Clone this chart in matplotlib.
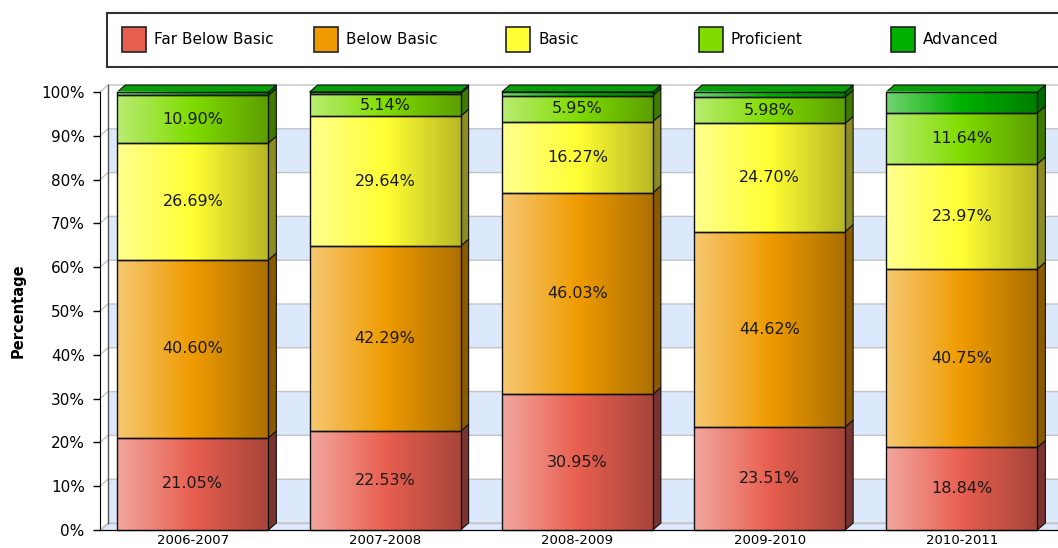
import numpy as np
import matplotlib
matplotlib.use("agg")
from matplotlib import pyplot as plt
from matplotlib.patches import Polygon, Rectangle
from matplotlib.colors import to_rgb

years = ["2006-2007", "2007-2008", "2008-2009", "2009-2010", "2010-2011"]
levels = ["Far Below Basic", "Below Basic", "Basic", "Proficient", "Advanced"]
far_below_basic = [21.05, 22.53, 30.95, 23.51, 18.84]
below_basic = [40.60, 42.29, 46.03, 44.62, 40.75]
basic = [26.69, 29.64, 16.27, 24.70, 23.97]
proficient = [10.90, 5.14, 5.95, 5.98, 11.64]
advanced = [0.76, 0.40, 0.80, 1.19, 4.80]
yticks = list(range(0, 101, 10))

colors = ["#e85f50", "#ef9b00", "#ffff33", "#80dc00", "#00b000"]
side_colors = ["#7b3330", "#8a5a00", "#8c8c22", "#3e7a00", "#006a00"]
top_color = "#0a9e0a"

W, H = 1058, 548
fig = plt.figure(figsize=(W / 100, H / 100), dpi=100)
ax = fig.add_axes([100 / W, 18 / H, 958 / W, 438 / H])
xmin, xmax = -0.483, 4.5
ax.set_xlim(xmin, xmax)
ax.set_ylim(0, 100)

# depth of the fake 3d, px -> data units
px_x = 958 / (xmax - xmin)
px_y = 438 / 100
dx = 8 / px_x
dy = 7 / px_y
bw = 151 / px_x


def gradient(c):
    base = np.array(to_rgb(c))
    light = base + (1 - base) * 0.45
    dark = base * 0.72
    t = np.linspace(0, 1, 200)[:, None]
    img = np.where(t < 0.5, light + (base - light) * (t / 0.5),
                   base + (dark - base) * ((t - 0.5) / 0.5))
    return np.clip(img[None, :, :], 0, 1)


# back wall: bands and grid lines
band = "#dce8fb"
grid = "#c4c4c4"
for v in yticks[:-1]:
    if (v // 10) % 2 == 0:
        ax.add_patch(Rectangle((xmin + dx, v + dy), xmax - xmin - dx, 10,
                               fc=band, ec="none", zorder=0, clip_on=False))
for v in yticks:
    ax.plot([xmin, xmin + dx, xmax], [v, v + dy, v + dy], color=grid, lw=1,
            zorder=0.5, clip_on=False)
ax.plot([xmin + dx, xmin + dx], [dy, 100 + dy], color="#555555", lw=1,
        zorder=0.8, clip_on=False)
# floor
ax.add_patch(Polygon([(xmin, 0), (xmax, 0), (xmax, dy), (xmin + dx, dy)],
                     closed=True, fc=band, ec=grid, lw=1, zorder=0.7,
                     clip_on=False))

series = [far_below_basic, below_basic, basic, proficient, advanced]
x = np.arange(len(years))
bottom = np.zeros(len(years))
for k, vals in enumerate(series):
    for i, v in enumerate(vals):
        x0, x1 = x[i] - bw / 2, x[i] + bw / 2
        y0, y1 = bottom[i], bottom[i] + v
        ax.imshow(gradient(colors[k]), extent=(x0, x1, y0, y1), aspect="auto",
                  interpolation="bilinear", zorder=3, clip_on=False)
        ax.add_patch(Polygon([(x1, y0), (x1, y1), (x1 + dx, y1 + dy), (x1 + dx, y0 + dy)],
                             closed=True, fc=side_colors[k], ec="#111111", lw=0.8,
                             zorder=2.5, clip_on=False))
        if v >= 5:
            ax.text(x[i], y0 + v / 2, f"{v:.2f}%", ha="center", va="center",
                    fontsize=11.5, color="#1a1a1a", zorder=6)
    ax.bar(x, vals, bw, bottom=bottom, fill=False, edgecolor="#111111",
           lw=1, zorder=4, clip_on=False)
    bottom = bottom + np.array(vals)

for i in range(len(years)):
    x0, x1 = x[i] - bw / 2, x[i] + bw / 2
    top = bottom[i]
    ax.add_patch(Polygon([(x0, top), (x1, top), (x1 + dx, top + dy), (x0 + dx, top + dy)],
                         closed=True, fc=top_color, ec="#111111", lw=0.8,
                         zorder=2.6, clip_on=False))

ax.set_xlim(xmin, xmax)
ax.set_ylim(0, 100)
ax.set_yticks(yticks)
ax.set_yticklabels([f"{v}%" for v in yticks])
ax.set_xticks(x)
ax.set_xticklabels(years)
ax.tick_params(axis="y", length=5, width=1, direction="out", labelsize=11, pad=6)
ax.tick_params(axis="x", length=0, labelsize=9.5, pad=3)
for s in ["top", "right"]:
    ax.spines[s].set_visible(False)
ax.spines["left"].set_zorder(5)
ax.spines["bottom"].set_zorder(5)
ax.patch.set_visible(False)

fig.text(18 / W, (H - 311) / H, "Percentage", rotation=90, ha="center",
         va="center", fontsize=10.5, fontweight="bold")

# legend, one slot per bar column
fig.patches.append(Rectangle((107 / W, (H - 67) / H), 1000 / W, 54 / H,
                             transform=fig.transFigure, fc="white", ec="#333333",
                             lw=1.5, figure=fig))
for i, lab in enumerate(levels):
    px = ax.transData.transform((x[i], 0))[0] - 71
    fig.patches.append(Rectangle((px / W, (H - 52) / H), 24 / W, 25 / H,
                                 transform=fig.transFigure, fc=colors[i],
                                 ec="#222222", lw=1.2, figure=fig))
    fig.text((px + 32) / W, (H - 39.5) / H, lab, ha="left", va="center",
             fontsize=11)

fig.savefig("out.png", dpi=100)
